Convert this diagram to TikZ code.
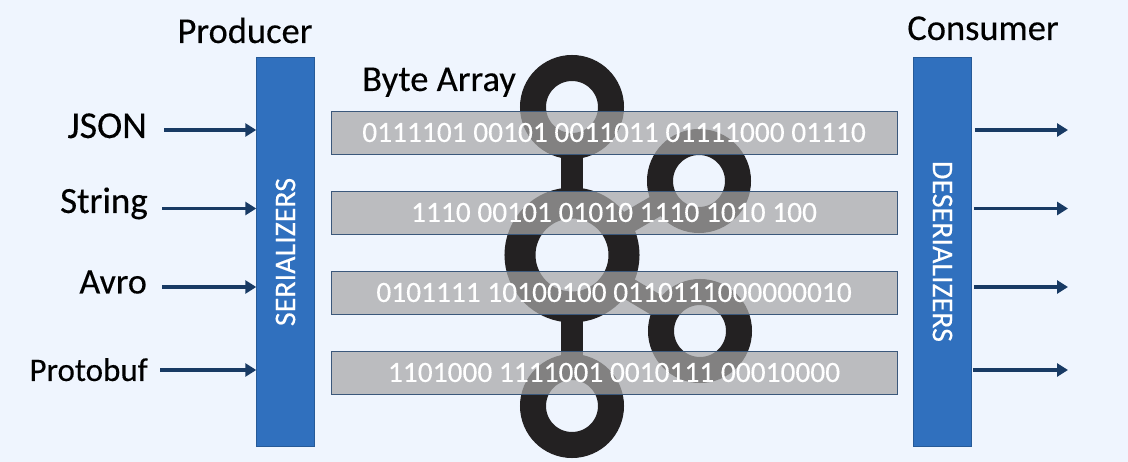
\documentclass[tikz,border=0pt]{standalone}
\usepackage{fontspec}
\setmainfont{Carlito}[FakeBold=0.25]
\usetikzlibrary{arrows.meta}
\definecolor{page_bg}{RGB}{239,245,254}
\definecolor{box_blue}{RGB}{48,112,190}
\definecolor{arrow_navy}{RGB}{24,58,100}
\definecolor{logo_black}{RGB}{35,33,34}
\definecolor{bar_gray}{RGB}{167,167,167}
\newcommand{\labelsize}[1]{\fontsize{#1}{#1}\selectfont}
\begin{document}
\begin{tikzpicture}
        [x=1pt,y=-1pt,
         label_style/.style={inner sep=0pt,font=\labelsize{36.5}},
         box_style/.style={draw=box_blue!80!black,line width=0.5pt,fill=box_blue,text=white,inner sep=0pt,minimum height=58pt,minimum width=389pt,font=\labelsize{30}},
         bar_style/.style={draw=arrow_navy!85,line width=0.8pt,fill=bar_gray,fill opacity=0.72,text opacity=1,text=white,inner sep=0pt,minimum width=566pt,minimum height=43pt,font=\labelsize{29.4}},
         ring_style/.style={circle,draw=logo_black,line width=26pt,minimum size=78pt,inner sep=0pt},
         ring_big_style/.style={circle,draw=logo_black,line width=31pt,minimum size=104pt,inner sep=0pt},
         link_style/.style={draw=logo_black,line width=22pt,shorten <=-6pt,shorten >=-6pt},
         arrow_style/.style={draw=arrow_navy,line width=3.5pt,-{Triangle[length=11pt,width=13pt]}}]
            \fill[page_bg] (0,0) rectangle (1128,462);
            % logo behind the bars
            \node[ring_style] (r_top) at (572,107) {};
            \node[ring_style] (r_upper) at (699,181) {};
            \node[ring_big_style] (r_mid) at (572,255) {};
            \node[ring_style] (r_lower) at (700,331) {};
            \node[ring_style] (r_bottom) at (572,406) {};
            \draw[link_style] (r_top) edge (r_mid);
            \draw[link_style] (r_mid) edge (r_bottom);
            \draw[link_style] (r_mid) edge (r_upper);
            \draw[link_style] (r_mid) edge (r_lower);
            % byte rows
            \node[bar_style] (bar1) at (614,132.5) {0111101 00101 0011011 01111000 01110};
            \node[bar_style] (bar2) at (614,212.5) {1110 00101 01010 1110 1010 100};
            \node[bar_style] (bar3) at (614,292.5) {0101111 10100100 0110111000000010};
            \node[bar_style] (bar4) at (614,372.5) {1101000 1111001 0010111 00010000};
            % side boxes
            \node[box_style,rotate=90] (ser) at (285.5,252) {SERIALIZERS};
            \node[box_style,rotate=-90] (deser) at (942.5,251.5) {DESERIALIZERS};
            % labels
            \node[label_style,anchor=base] (producer) at (245,43) {Producer};
            \node[label_style,anchor=base] (consumer) at (983,40) {Consumer};
            \node[label_style,anchor=base west] (bytes) at (362,91) {Byte Array};
            \node[label_style,anchor=base east,font=\labelsize{38}] (json) at (147,138) {JSON};
            \node[label_style,anchor=base east,font=\labelsize{37}] (string) at (148,213) {String};
            \node[label_style,anchor=base east,font=\labelsize{36}] (avro) at (147,293.5) {Avro};
            \node[label_style,anchor=base east,font=\labelsize{33}] (protobuf) at (148,381) {Protobuf};
            % arrow ends
            \coordinate (in1) at (164,130);
            \coordinate (in2) at (162,208.5);
            \coordinate (in3) at (162,287);
            \coordinate (in4) at (160,370);
            \coordinate (out1) at (1068,130);
            \coordinate (out2) at (1068,208.5);
            \coordinate (out3) at (1068,287);
            \coordinate (out4) at (1068,370);
            \draw[arrow_style] (in1) -- (in1 -| ser.north);
            \draw[arrow_style] (in2) -- (in2 -| ser.north);
            \draw[arrow_style] (in3) -- (in3 -| ser.north);
            \draw[arrow_style] (in4) -- (in4 -| ser.north);
            \draw[arrow_style] (deser.north |- out1) ++(3,0) -- (out1);
            \draw[arrow_style] (deser.north |- out2) ++(2,0) -- (out2);
            \draw[arrow_style] (deser.north |- out3) ++(2,0) -- (out3);
            \draw[arrow_style] (deser.north |- out4) ++(1,0) -- (out4);
        \end{tikzpicture}
\end{document}
